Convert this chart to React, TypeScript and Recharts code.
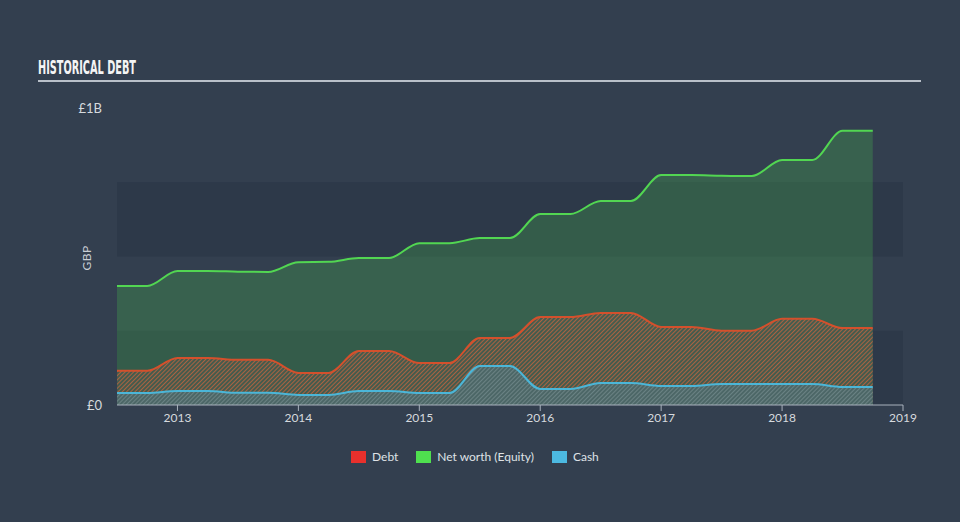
import { AreaChart, Area, XAxis, YAxis, ReferenceArea } from "recharts";

const quarters = [
  2012.5, 2012.75, 2013, 2013.25, 2013.5, 2013.75, 2014, 2014.25, 2014.5, 2014.75,
  2015, 2015.25, 2015.5, 2015.75, 2016, 2016.25, 2016.5, 2016.75, 2017, 2017.25,
  2017.5, 2017.75, 2018, 2018.25, 2018.5, 2018.75,
];
// values in £m
const netWorth = [
  401, 401, 451, 451, 449, 448, 481, 482, 495, 495,
  545, 545, 562, 562, 643, 643, 687, 687, 774, 774,
  772, 771, 825, 825, 923, 923,
];
const debt = [
  115, 115, 158, 158, 152, 152, 108, 108, 182, 182,
  141, 141, 226, 226, 296, 296, 310, 310, 263, 263,
  250, 250, 290, 290, 259, 259,
];
const cash = [
  40, 40, 47, 47, 41, 41, 34, 34, 47, 47,
  40, 40, 131, 131, 54, 54, 74, 74, 64, 64,
  71, 71, 71, 71, 61, 61,
];
const yearTicks = [2013, 2014, 2015, 2016, 2017, 2018, 2019];
const valueTicks = [0, 1000];
const bands = [
  [0, 250],
  [500, 750],
];

const chartData = quarters.map((q, i) => ({
  date: q,
  netWorth: netWorth[i],
  debt: debt[i],
  cash: cash[i],
}));

const BG = "#333f4f";
const FONT = "Lato, 'Open Sans', sans-serif";

const legendItems = [
  { label: "Debt", color: "#e8302c" },
  { label: "Net worth (Equity)", color: "#4fe04f" },
  { label: "Cash", color: "#4cb9e1" },
];

export default function App() {
  return (
    <div style={{ position: "absolute", left: 0, top: 0, width: 960, height: 522, background: BG, fontFamily: FONT }}>
      <svg style={{ position: "absolute", left: 0, top: 0 }} width={960} height={90}>
        <text
          x={38}
          y={74}
          fill="#f4f4f4"
          fontFamily="'Liberation Sans Narrow', 'DejaVu Sans Condensed', sans-serif"
          fontWeight="bold"
          fontSize={20}
          textLength={98}
          lengthAdjust="spacingAndGlyphs"
        >
          HISTORICAL DEBT
        </text>
        <rect x={38} y={80} width={883} height={2} fill="#b9c0c9" />
      </svg>

      <div
        style={{
          position: "absolute",
          left: 86,
          top: 258,
          transform: "translate(-50%, -50%) rotate(-90deg)",
          color: "#c9ced5",
          fontSize: 12,
          letterSpacing: 0.5,
        }}
      >
        GBP
      </div>

      <div style={{ position: "absolute", left: 0, top: 0 }}>
        <AreaChart width={960} height={522} data={chartData} margin={{ top: 108, right: 57, bottom: 87, left: 0 }}>
          <defs>
            <pattern id="debtHatch" width="3" height="3" patternUnits="userSpaceOnUse" patternTransform="rotate(45)">
              <rect width="3" height="3" fill="#505a4e" fillOpacity={0.6} />
              <line x1="0" y1="0" x2="0" y2="3" stroke="#c4643f" strokeWidth={1.6} strokeOpacity={1} />
            </pattern>
            <pattern id="cashHatch" width="3" height="3" patternUnits="userSpaceOnUse" patternTransform="rotate(45)">
              <rect width="3" height="3" fill="#4f6b70" fillOpacity={0.75} />
              <line x1="0" y1="0" x2="0" y2="3" stroke="#6a9ea6" strokeWidth={1.6} strokeOpacity={0.6} />
            </pattern>
          </defs>
          {bands.map(([a, b]) => (
            <ReferenceArea key={a} y1={a} y2={b} x1={2012.5} x2={2019} fill="#2d3949" fillOpacity={1} stroke="none" ifOverflow="visible" />
          ))}
          <XAxis
            dataKey="date"
            type="number"
            domain={[2012.5, 2019]}
            ticks={yearTicks}
            height={30}
            stroke="#a9b2bd"
            tickLine={{ stroke: "#a9b2bd" }}
            tickSize={6}
            tick={{ fill: "#d6dade", fontSize: 12, fontFamily: FONT }}
            allowDataOverflow
          />
          <YAxis
            type="number"
            domain={[0, 1000]}
            ticks={valueTicks}
            width={117}
            axisLine={false}
            tickLine={false}
            tickSize={0}
            tickMargin={15}
            tick={{ fill: "#d6dade", fontSize: 13, fontFamily: FONT }}
            tickFormatter={(v: number) => (v === 0 ? "£0" : "£1B")}
          />
          <Area
            type="monotone"
            dataKey="netWorth"
            stroke="#52d652"
            strokeWidth={2}
            fill="#4ddc4d"
            fillOpacity={0.22}
            isAnimationActive={false}
          />
          <Area
            type="monotone"
            dataKey="debt"
            stroke="#d4502c"
            strokeWidth={2}
            fill="url(#debtHatch)"
            fillOpacity={1}
            isAnimationActive={false}
          />
          <Area
            type="monotone"
            dataKey="cash"
            stroke="#4bb6d8"
            strokeWidth={2}
            fill="url(#cashHatch)"
            fillOpacity={1}
            isAnimationActive={false}
          />
        </AreaChart>
      </div>

      <div
        style={{
          position: "absolute",
          left: 351,
          top: 449,
          display: "flex",
          alignItems: "center",
          fontSize: 12,
          color: "#dfe2e6",
        }}
      >
        {legendItems.map((it) => (
          <div key={it.label} style={{ display: "flex", alignItems: "center", marginRight: 18 }}>
            <span style={{ display: "inline-block", width: 15, height: 12, background: it.color, marginRight: 6 }} />
            <span>{it.label}</span>
          </div>
        ))}
      </div>
    </div>
  );
}
